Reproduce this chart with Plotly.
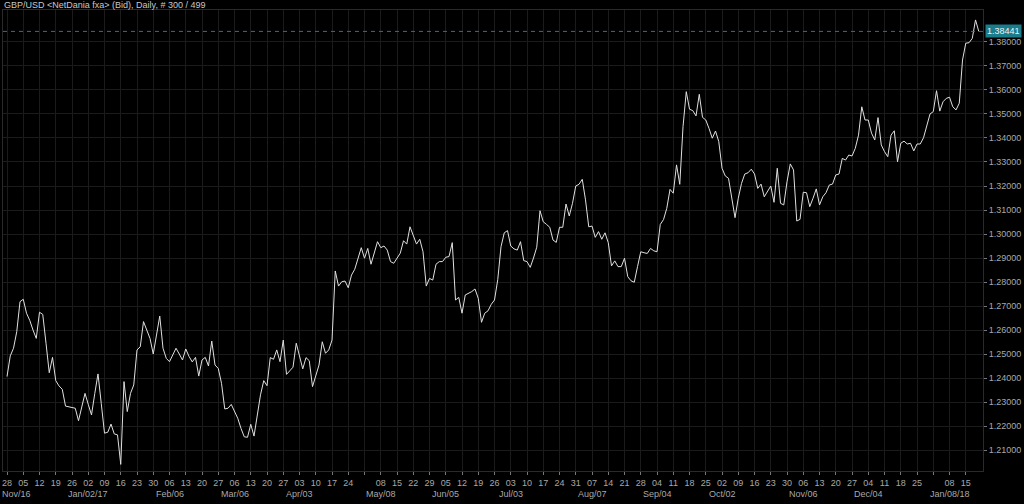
import pandas as pd
import plotly.graph_objects as go

# ---- data ----
start_date = "2016-11-28"
n_bars = 300
closes = [
    1.2406, 1.2492, 1.2524, 1.2593, 1.2718, 1.2728, 1.2670, 1.2640, 1.2600, 1.2565,
    1.2674, 1.2665, 1.2545, 1.2422, 1.2486, 1.2389, 1.2367, 1.2353, 1.2283, 1.2280,
    1.2278, 1.2274, 1.2222, 1.2280, 1.2336, 1.2290, 1.2246, 1.2335, 1.2417, 1.2294,
    1.2170, 1.2174, 1.2208, 1.2167, 1.2163, 1.2040, 1.2385, 1.2260, 1.2336, 1.2371,
    1.2517, 1.2530, 1.2635, 1.2600, 1.2565, 1.2500, 1.2580, 1.2658, 1.2524, 1.2482,
    1.2468, 1.2496, 1.2524, 1.2500, 1.2475, 1.2521, 1.2490, 1.2467, 1.2486, 1.2408,
    1.2475, 1.2486, 1.2450, 1.2554, 1.2454, 1.2440, 1.2378, 1.2271, 1.2274, 1.2290,
    1.2260, 1.2232, 1.2190, 1.2155, 1.2153, 1.2207, 1.2158, 1.2240, 1.2330, 1.2389,
    1.2368, 1.2485, 1.2478, 1.2517, 1.2468, 1.2558, 1.2415, 1.2430, 1.2445, 1.2545,
    1.2496, 1.2438, 1.2485, 1.2472, 1.2364, 1.2410, 1.2454, 1.2551, 1.2503, 1.2517,
    1.2558, 1.2846, 1.2783, 1.2801, 1.2804, 1.2776, 1.2829, 1.2853, 1.2900, 1.2943,
    1.2899, 1.2940, 1.2874, 1.2920, 1.2968, 1.2943, 1.2950, 1.2933, 1.2885, 1.2878,
    1.2900, 1.2920, 1.2972, 1.2958, 1.3030, 1.2996, 1.2958, 1.2978, 1.2926, 1.2783,
    1.2815, 1.2808, 1.2874, 1.2885, 1.2885, 1.2903, 1.2906, 1.2964, 1.2725, 1.2736,
    1.2670, 1.2746, 1.2753, 1.2760, 1.2771, 1.2732, 1.2632, 1.2670, 1.2680, 1.2707,
    1.2725, 1.2810, 1.2947, 1.3005, 1.3014, 1.2950, 1.2938, 1.2933, 1.2968, 1.2889,
    1.2885, 1.2861, 1.2900, 1.2945, 1.3097, 1.3051, 1.3040, 1.3028, 1.2975, 1.2965,
    1.3028, 1.3028, 1.3125, 1.3075, 1.3128, 1.3200, 1.3207, 1.3228, 1.3142, 1.3030,
    1.3033, 1.2986, 1.3010, 1.2978, 1.3005, 1.2964, 1.2867, 1.2888, 1.2864, 1.2864,
    1.2899, 1.2822, 1.2805, 1.2799, 1.2864, 1.2926, 1.2922, 1.2919, 1.2940, 1.2930,
    1.2926, 1.3040, 1.3060, 1.3107, 1.3186, 1.3170, 1.3288, 1.3207, 1.3447, 1.3593,
    1.3520, 1.3514, 1.3492, 1.3582, 1.3486, 1.3475, 1.3440, 1.3399, 1.3429, 1.3385,
    1.3274, 1.3242, 1.3232, 1.3149, 1.3068, 1.3149, 1.3211, 1.3250, 1.3255, 1.3270,
    1.3250, 1.3190, 1.3208, 1.3155, 1.3176, 1.3200, 1.3132, 1.3274, 1.3128, 1.3121,
    1.3218, 1.3292, 1.3267, 1.3054, 1.3061, 1.3174, 1.3172, 1.3114, 1.3149, 1.3188,
    1.3121, 1.3155, 1.3172, 1.3204, 1.3208, 1.3246, 1.3250, 1.3315, 1.3308, 1.3329,
    1.3325, 1.3357, 1.3412, 1.3530, 1.3475, 1.3475, 1.3420, 1.3392, 1.3485, 1.3371,
    1.3343, 1.3322, 1.3412, 1.3430, 1.3301, 1.3378, 1.3387, 1.3375, 1.3378, 1.3346,
    1.3375, 1.3375, 1.3401, 1.3447, 1.3500, 1.3510, 1.3597, 1.3512, 1.3551, 1.3565,
    1.3570, 1.3530, 1.3517, 1.3545, 1.3725, 1.3795, 1.3797, 1.3815, 1.3892, 1.3844,
]
last_price = 1.38441
price_ticks = [1.21, 1.22, 1.23, 1.24, 1.25, 1.26, 1.27, 1.28, 1.29, 1.30,
               1.31, 1.32, 1.33, 1.34, 1.35, 1.36, 1.37, 1.38]
week_labels = ["28", "05", "12", "19", "26", "02", "09", "16", "23", "30",
               "06", "13", "20", "27", "06", "13", "20", "27", "03", "10",
               "17", "24", "", "08", "15", "22", "29", "05", "12", "19",
               "26", "03", "10", "17", "24", "31", "07", "14", "21", "28",
               "04", "11", "18", "25", "02", "09", "16", "23", "30", "06",
               "13", "20", "27", "04", "11", "18", "25", "", "08", "15"]
month_labels = ["Nov/16", "Jan/02/17", "Feb/06", "Mar/06", "Apr/03", "May/08", "Jun/05",
                "Jul/03", "Aug/07", "Sep/04", "Oct/02", "Nov/06", "Dec/04", "Jan/08/18"]
month_weeks = [0, 5, 10, 14, 18, 23, 27, 31, 36, 40, 44, 49, 53, 58]
title_text = "GBP/USD &lt;NetDania fxa&gt; (Bid), Daily, # 300 / 499"

dates = list(pd.bdate_range(start_date, periods=n_bars).strftime("%Y-%m-%d"))
mondays = dates[::5]

FONT = "Liberation Sans, Arial, sans-serif"
GRID = "#1b1b1b"
TXT = "#a8a8a8"
TEAL = "#1b7d8c"

fig = go.Figure()
fig.add_trace(go.Scatter(x=dates, y=closes, mode="lines",
                         line=dict(color="#e0e0e0", width=1), hoverinfo="skip"))

fig.add_shape(type="line", xref="paper", x0=0, x1=1, yref="y", y0=last_price, y1=last_price,
              line=dict(color=TEAL, width=1, dash="4px,4px"))

annotations = [
    dict(text=title_text, xref="paper", yref="paper", x=0, y=1, xanchor="left", yanchor="bottom",
         xshift=-1, yshift=-2, showarrow=False, font=dict(family=FONT, size=9, color="#c8c8c8")),
    dict(text=f"{last_price:.5f}", xref="paper", yref="y", x=1, y=last_price, xanchor="left",
         yanchor="middle", xshift=2, showarrow=False, bgcolor=TEAL, borderpad=1,
         font=dict(family=FONT, size=9, color="#f0f0f0")),
]
for lab, wk in zip(month_labels, month_weeks):
    if wk == 0:
        annotations.append(dict(text=lab, xref="paper", yref="paper", x=0, y=0, xanchor="left",
                                yanchor="top", xshift=-3, yshift=-16, showarrow=False,
                                font=dict(family=FONT, size=9, color=TXT)))
    else:
        annotations.append(dict(text=lab, xref="x", yref="paper", x=mondays[wk], y=0,
                                xanchor="center", yanchor="top", yshift=-16, showarrow=False,
                                font=dict(family=FONT, size=9, color=TXT)))

fig.update_layout(
    width=1024, height=504,
    margin=dict(l=3, r=41, t=10, b=33),
    paper_bgcolor="#000000", plot_bgcolor="#000000",
    showlegend=False,
    annotations=annotations,
    xaxis=dict(type="category", range=[-1.23, 300.3], tickmode="array",
               tickvals=mondays, ticktext=week_labels, tickangle=0,
               showgrid=True, gridcolor=GRID, gridwidth=1,
               ticks="outside", ticklen=3, tickcolor="#777777",
               showline=True, linecolor="#2a2a2a", mirror=True, zeroline=False,
               tickfont=dict(family=FONT, size=9, color=TXT)),
    yaxis=dict(side="right", range=[1.20125, 1.39333], tickmode="array",
               tickvals=price_ticks, tickformat=".5f",
               showgrid=True, gridcolor=GRID, gridwidth=1,
               ticks="outside", ticklen=3, tickcolor="#777777",
               showline=True, linecolor="#2a2a2a", mirror=True, zeroline=False,
               tickfont=dict(family=FONT, size=9, color=TXT)),
)

fig.write_html(
    "out.html",
    config={"displayModeBar": False},
    post_script="document.body.style.margin='0';document.body.style.overflow='hidden';document.body.style.background='#000';",
)
